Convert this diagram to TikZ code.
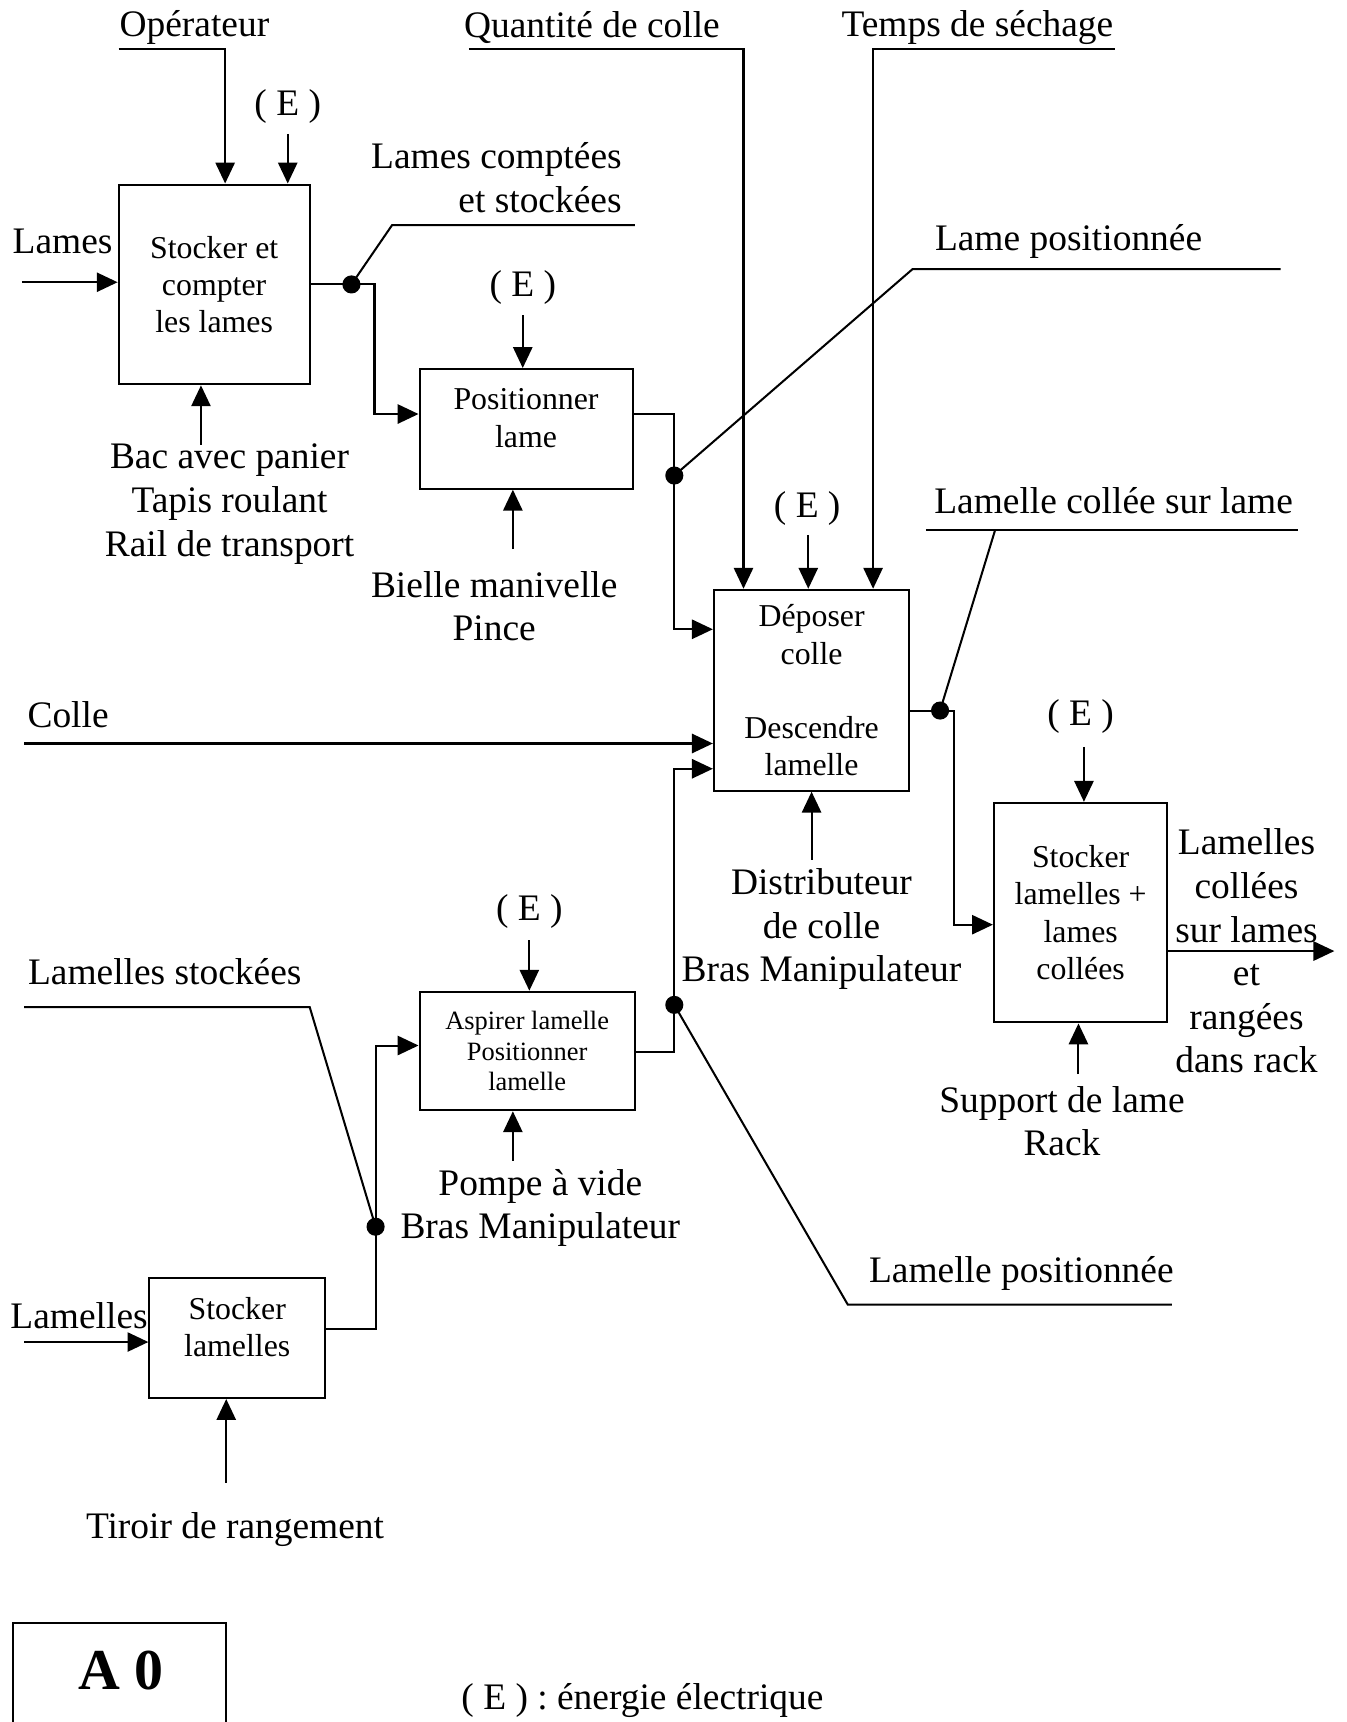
\documentclass[tikz,border=0pt]{standalone}
\usepackage{fontspec}
\setmainfont{Liberation Serif}
\usetikzlibrary{calc, arrows.meta}

\newcommand{\txtgrand}{\fontsize{19.4}{22.6}\selectfont}
\newcommand{\txtmoyen}{\fontsize{16.5}{19.3}\selectfont}
\newcommand{\txtpetit}{\fontsize{13.7}{15.9}\selectfont}

\tikzset{
  boite/.style={draw, align=center, inner sep=2pt, font=\txtmoyen},
  etiq/.style={align=center, inner sep=0pt, font=\txtgrand},
  fl/.style={-{Triangle[length=0.38cm, width=0.35cm]}},
}

\begin{document}
\begin{tikzpicture}[x=0.02cm, y=-0.02cm, line width=1.05pt]
  \useasboundingbox (0,0) rectangle (1226,1568);

  % boites A1 ... A6
  \node[boite, minimum width=3.48cm, minimum height=3.64cm] (A1) at (195,259) {Stocker et\\compter\\les lames};
  \node[boite, minimum width=3.88cm, minimum height=2.18cm] (A2) at (479,390.5) {Positionner\\lame\\[-8pt]\mbox{}};
  \node[boite, minimum width=3.56cm, minimum height=3.66cm] (A3) at (739,628.5) {Déposer\\colle\\[19pt]Descendre\\lamelle};
  \node[boite, minimum width=3.92cm, minimum height=2.16cm, font=\txtpetit] (A4) at (480,957) {Aspirer lamelle\\Positionner\\lamelle};
  \node[boite, minimum width=3.16cm, minimum height=4cm] (A5) at (984,831) {Stocker\\lamelles +\\lames\\collées};
  \node[boite, minimum width=3.2cm, minimum height=2.18cm] (A6) at (216,1218.5) {Stocker\\lamelles\\[-8pt]\mbox{}};

  % textes
  \node[etiq] (op) at (177,25) {Opérateur};
  \node[etiq] (qc) at (539,25) {Quantité de colle};
  \node[etiq] (ts) at (890,25) {Temps de séchage};
  \node[etiq] (lames) at (57,220) {Lames};
  \node[etiq, align=right] (lcs) at (452,162) {Lames comptées\\et stockées};
  \node[etiq] (lp) at (973,220) {Lame positionnée};
  \node[etiq] (bac) at (209,459) {Bac avec panier\\Tapis roulant\\Rail de transport};
  \node[etiq] (bielle) at (450,552) {Bielle manivelle\\Pince};
  \node[etiq] (lcl) at (1014,456) {Lamelle collée sur lame};
  \node[etiq] (colle) at (62,651) {Colle};
  \node[etiq] (distrib) at (748,846) {Distributeur\\de colle\\Bras Manipulateur};
  \node[etiq] (lst) at (150,885) {Lamelles stockées};
  \node[etiq] (pompe) at (492,1100) {Pompe à vide\\Bras Manipulateur};
  \node[etiq] (lcr) at (1135,866) {Lamelles\\collées\\sur lames\\et\\rangées\\dans rack};
  \node[etiq] (lpos) at (930,1160) {Lamelle positionnée};
  \node[etiq] (rack) at (967,1021) {Support de lame\\Rack};
  \node[etiq] (lamelles) at (72,1198) {Lamelles};
  \node[etiq] (tiroir) at (214,1393) {Tiroir de rangement};
  \node[etiq] (legende) at (585,1548) {( E ) : énergie électrique};

  % energie
  \node[etiq] (E1) at (262,97) {( E )};
  \node[etiq] (E2) at (476,262) {( E )};
  \node[etiq] (E3) at (735,463) {( E )};
  \node[etiq] (E4) at (984,652) {( E )};
  \node[etiq] (E5) at (482,830) {( E )};
  \coordinate (e1) at (262,122);
  \coordinate (e2) at (476,287);
  \coordinate (e3) at (736,487);
  \coordinate (e4) at (987,680);
  \coordinate (e5) at (482,856);
  \draw[fl] (e1) -- (e1 |- A1.north);
  \draw[fl] (e2) -- (e2 |- A2.north);
  \draw[fl] (e3) -- (e3 |- A3.north);
  \draw[fl] (e4) -- (e4 |- A5.north);
  \draw[fl] (e5) -- (e5 |- A4.north);

  % controles du haut
  \coordinate (op1) at (108,45);
  \coordinate (op2) at (205,45);
  \coordinate (qc1) at (427,45);
  \coordinate (qc2) at (677,45);
  \coordinate (ts1) at (1015,45);
  \coordinate (ts2) at (795,45);
  \draw[fl] (op1) -- (op2) -- (op2 |- A1.north);
  \draw[fl] (qc1) -- (qc2) -- (qc2 |- A3.north);
  \draw[fl] (ts1) -- (ts2) -- (ts2 |- A3.north);

  % entrees
  \coordinate (in1) at (20,257);
  \coordinate (cl) at (22,677);
  \coordinate (in6) at (22,1222);
  \draw[fl] (in1) -- (in1 -| A1.west);
  \draw[fl] (cl) -- (cl -| A3.west);
  \draw[fl] (in6) -- (in6 -| A6.west);

  % liaisons entre boites
  \coordinate (c1) at (341,377);
  \coordinate (c2a) at (614,377);
  \coordinate (c2b) at (614,573);
  \coordinate (c3a) at (869,647);
  \coordinate (c3b) at (869,842);
  \coordinate (c4a) at (614,958);
  \coordinate (c4b) at (614,700);
  \coordinate (c6a) at (342,1210);
  \coordinate (c6b) at (342,952);
  \coordinate (out5) at (1215,866);
  \draw[fl] (A1.east) -- (c1 |- A1.east) -- (c1) -- (c1 -| A2.west);
  \draw[fl] (c2a -| A2.east) -- (c2a) -- (c2b) -- (c2b -| A3.west);
  \draw[fl] (c4a -| A4.east) -- (c4a) -- (c4b) -- (c4b -| A3.west);
  \draw[fl] (c3a -| A3.east) -- (c3a) -- (c3b) -- (c3b -| A5.west);
  \draw[fl] (c6a -| A6.east) -- (c6a) -- (c6b) -- (c6b -| A4.west);
  \draw[fl] (out5 -| A5.east) -- (out5);

  % mecanismes
  \coordinate (m1) at (183,405);
  \coordinate (m2) at (467,500);
  \coordinate (m3) at (739,783);
  \coordinate (m4) at (467,1057);
  \coordinate (m5) at (982,978);
  \coordinate (m6) at (206,1350);
  \draw[fl] (m1) -- (m1 |- A1.south);
  \draw[fl] (m2) -- (m2 |- A2.south);
  \draw[fl] (m3) -- (m3 |- A3.south);
  \draw[fl] (m4) -- (m4 |- A4.south);
  \draw[fl] (m5) -- (m5 |- A5.south);
  \draw[fl] (m6) -- (m6 |- A6.south);

  % sorties intermediaires
  \coordinate (d1) at (320,259);
  \coordinate (d2) at (614,433);
  \coordinate (d3) at (856,647);
  \coordinate (d4) at (614,915);
  \coordinate (d5) at (342,1117);
  \coordinate (b1) at (357,205);  \coordinate (b1e) at (578,205);
  \coordinate (b2) at (831,245);  \coordinate (b2e) at (1166,245);
  \coordinate (b3) at (906,483);  \coordinate (b3a) at (843,483); \coordinate (b3e) at (1182,483);
  \coordinate (b4) at (772,1188); \coordinate (b4e) at (1067,1188);
  \coordinate (b5) at (282,917);  \coordinate (b5e) at (22,917);
  \draw (d1) -- (b1) -- (b1e);
  \draw (d2) -- (b2) -- (b2e);
  \draw (d3) -- (b3);
  \draw (b3a) -- (b3e);
  \draw (d4) -- (b4) -- (b4e);
  \draw (d5) -- (b5) -- (b5e);
  \foreach \p in {d1,d2,d3,d4,d5}
    \fill (\p) circle (0.165cm);

  % cartouche
  \draw (12,1478) rectangle (206,1600);
  \node[font=\fontsize{30}{36}\selectfont\bfseries] (titre) at (110,1521) {A 0};
\end{tikzpicture}
\end{document}
